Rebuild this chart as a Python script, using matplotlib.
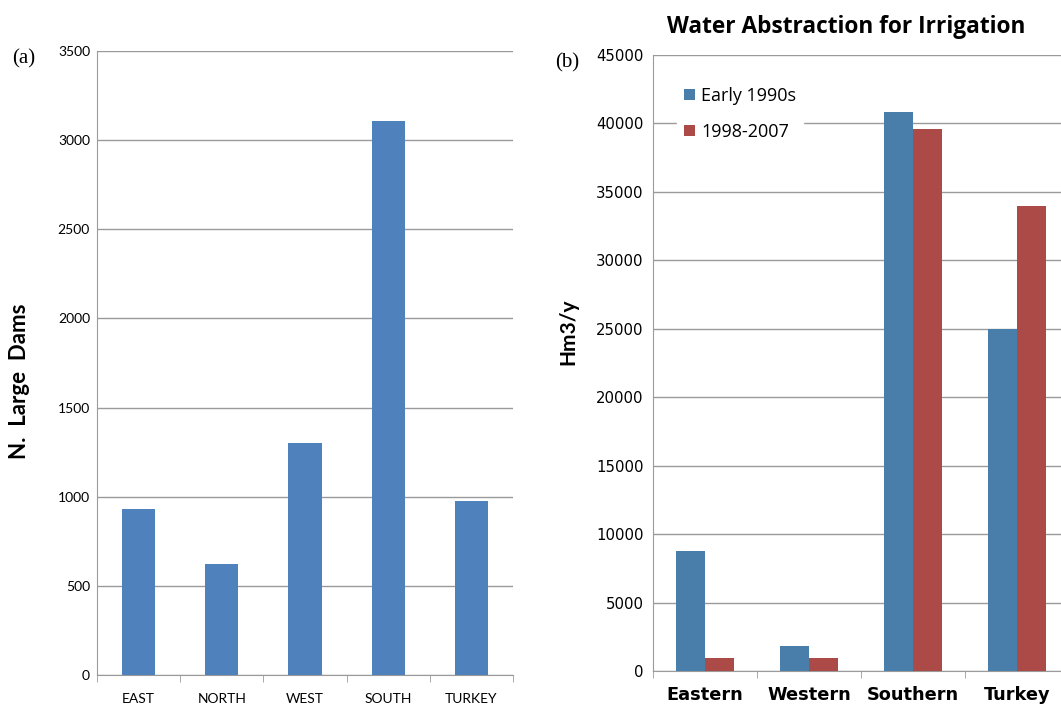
import matplotlib
matplotlib.use("Agg")
import matplotlib.pyplot as plt
import numpy as np

# panel (a) data
dam_regions = ["EAST", "NORTH", "WEST", "SOUTH", "TURKEY"]
large_dams = [930, 620, 1300, 3110, 975]

# panel (b) data
irr_regions = ["Eastern", "Western", "Southern", "Turkey"]
early_1990s = [8750, 1850, 40800, 25000]
y1998_2007 = [930, 980, 39600, 34000]
series_names = ["Early 1990s", "1998-2007"]

grid_col = "#9a9a9a"

fig = plt.figure(figsize=(10.61, 7.06), dpi=100)

#panel a
ax1 = fig.add_axes([0.0914, 0.0439, 0.3921, 0.8839])
x = np.arange(len(dam_regions))
ax1.bar(x, large_dams, width=0.4, color="#4F81BD", zorder=3)
ax1.set_xlim(-0.5, len(dam_regions) - 0.5)
ax1.set_ylim(0, 3500)
ax1.set_yticks(np.arange(0, 3501, 500))
ax1.yaxis.grid(True, color=grid_col, linewidth=1.0, zorder=0)
ax1.set_xticks(x)
ax1.set_xticklabels(dam_regions, fontsize=10, family="Lato")
ax1.set_xticks(np.arange(-0.5, len(dam_regions)), minor=True)
ax1.tick_params(axis="x", which="major", length=0, pad=13)
ax1.tick_params(axis="x", which="minor", length=5, color=grid_col, direction="out")
ax1.tick_params(axis="y", length=0, pad=5)
for lab in ax1.get_yticklabels():
    lab.set_family("Lato")
    lab.set_fontsize(10)
for s in ["top", "right"]:
    ax1.spines[s].set_visible(False)
ax1.spines["left"].set_color(grid_col)
ax1.spines["bottom"].set_color(grid_col)
ax1.set_ylabel("N.  Large  Dams", fontsize=16, fontweight="bold", family="Lato")
ax1.yaxis.set_label_coords(-0.16, 0.47)
fig.text(0.011, 0.91, "(a)", fontsize=15, family="Liberation Serif")

#panel b
ax2 = fig.add_axes([0.6155, 0.0496, 0.392, 0.8725])
x2 = np.arange(len(irr_regions))
w = 0.28
ax2.bar(x2 - w / 2, early_1990s, width=w, color="#4A7EAA", label=series_names[0], zorder=3)
ax2.bar(x2 + w / 2, y1998_2007, width=w, color="#AC4A47", label=series_names[1], zorder=3)
ax2.set_xlim(-0.5, len(irr_regions) - 0.5)
ax2.set_ylim(0, 45000)
ax2.set_yticks(np.arange(0, 45001, 5000))
ax2.yaxis.grid(True, color=grid_col, linewidth=1.0, zorder=0)
ax2.set_xticks(x2)
ax2.set_xticklabels(irr_regions, fontsize=12.8, fontweight="bold", family="DejaVu Sans")
ax2.set_xticks(np.arange(-0.5, len(irr_regions)), minor=True)
ax2.tick_params(axis="x", which="major", length=0, pad=11)
ax2.tick_params(axis="x", which="minor", length=5, color=grid_col, direction="out")
ax2.tick_params(axis="y", length=0, pad=7, labelsize=10.7)
for s in ["top", "right"]:
    ax2.spines[s].set_visible(False)
ax2.spines["left"].set_color(grid_col)
ax2.spines["bottom"].set_color(grid_col)
ax2.set_ylabel("Hm3/y", fontsize=15, fontweight="bold", family="Lato")
ax2.yaxis.set_label_coords(-0.18, 0.55)
ax2.set_title("Water Abstraction for Irrigation", fontsize=16.3, fontweight="bold",
              family="Open Sans", x=0.465, pad=16)
leg = ax2.legend(loc="upper left", bbox_to_anchor=(0.035, 0.975), frameon=True,
                 prop={"family": "Open Sans", "size": 13}, handlelength=0.6,
                 handleheight=0.6, handletextpad=0.35, labelspacing=1.0,
                 borderpad=0.4, fancybox=False)
leg.get_frame().set_edgecolor("white")
leg.get_frame().set_facecolor("white")
leg.get_frame().set_alpha(1)
fig.text(0.523, 0.905, "(b)", fontsize=15, family="Liberation Serif")

fig.savefig("out.png", dpi=100)
